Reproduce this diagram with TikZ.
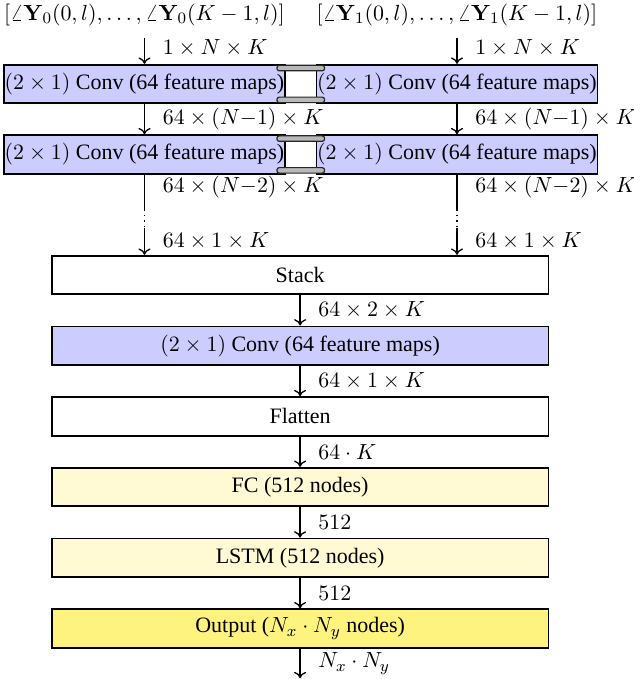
\documentclass[tikz,border=0pt]{standalone}
\usepackage[no-math]{fontspec}
\setmainfont{Liberation Serif}
\usetikzlibrary{positioning,calc,arrows.meta}
\definecolor{convblue}{RGB}{204,204,255}
\definecolor{fcyellow}{RGB}{255,250,212}
\definecolor{outyellow}{RGB}{255,243,128}

\begin{document}
\begin{tikzpicture}[x=0.5pt,y=0.5pt,font=\fontsize{11}{13}\selectfont,
  node distance=15.2pt,
  layer/.style={draw,line width=0.9pt,minimum height=19.25pt,inner sep=0pt},
  convbox/.style={layer,fill=convblue,minimum width=140.5pt},
  wide/.style={layer,minimum width=248.4pt},
  clamp/.style={draw=black!85,fill=black!28,line width=0.6pt,rounded corners=1.2pt},
  flow/.style={-{To[length=3.2pt,width=6pt]},line width=0.65pt},
  dims/.style={right,xshift=5.5pt}]
\useasboundingbox (0,0) rectangle (633,-679);
% two input branches, conv weights tied between them
\node (inL) at (144.5,-15) {$[\angle\mathbf{Y}_0(0,l),\ldots,\angle\mathbf{Y}_0(K-1,l)]$};
\node (inR) at (457,-15) {$[\angle\mathbf{Y}_1(0,l),\ldots,\angle\mathbf{Y}_1(K-1,l)]$};
\foreach \row/\yy in {1/-84,2/-154.5}{
  \node[convbox] (c\row L) at (144.5,\yy) {$(2\times1)$ Conv (64 feature maps)};
  \node[convbox] (c\row R) at (457,\yy) {$(2\times1)$ Conv (64 feature maps)};
  % shared-weight clamp
  \draw[clamp] ($(c\row L.north east)+(-9,-1.5)$) rectangle ($(c\row R.north west)+(9,-7)$);
  \draw[clamp] ($(c\row L.south east)+(-9,1.5)$) rectangle ($(c\row R.south west)+(9,7)$);
}
% merged trunk
\node[wide] (stack) at (300.1,-275) {Stack};
\node[wide,fill=convblue,below=of stack] (c3) {$(2\times1)$ Conv (64 feature maps)};
\node[wide,below=of c3] (flat) {Flatten};
\node[wide,fill=fcyellow,below=of flat] (fc) {FC (512 nodes)};
\node[wide,fill=fcyellow,below=of fc] (lstm) {LSTM (512 nodes)};
\node[wide,fill=outyellow,below=of lstm] (out) {Output ($N_x\cdot N_y$ nodes)};
\coordinate[below=14.8pt of out] (end);
% branch connectors
\foreach \side in {L,R}{
  \draw[flow,shorten <=2.5pt] (in\side.south) -- (c1\side.north) node[midway,dims] {$1\times N\times K$};
  \draw[flow] (c1\side) -- (c2\side) node[midway,dims] {$64\times(N{-}1)\times K$};
  \coordinate (u\side) at ($(c2\side.south)+(0,-35)$);
  \coordinate (v\side) at ($(c2\side.south)+(0,-53)$);
  \draw[line width=0.65pt] (c2\side) -- (u\side) node[pos=0.35,dims] {$64\times(N{-}2)\times K$};
  \draw[line width=0.65pt,dotted] (u\side) -- (v\side);
  \draw[flow] (v\side) -- (v\side |- stack.north) node[midway,dims] {$64\times1\times K$};
}
% trunk connectors
\foreach \src/\dst/\sz in {stack/c3/{64\times2\times K},c3/flat/{64\times1\times K},flat/fc/{64\cdot K},fc/lstm/{512},lstm/out/{512},out/end/{N_x\cdot N_y}}
  \draw[flow] (\src) -- (\dst) node[midway,dims] {$\sz$};
\end{tikzpicture}
\end{document}
